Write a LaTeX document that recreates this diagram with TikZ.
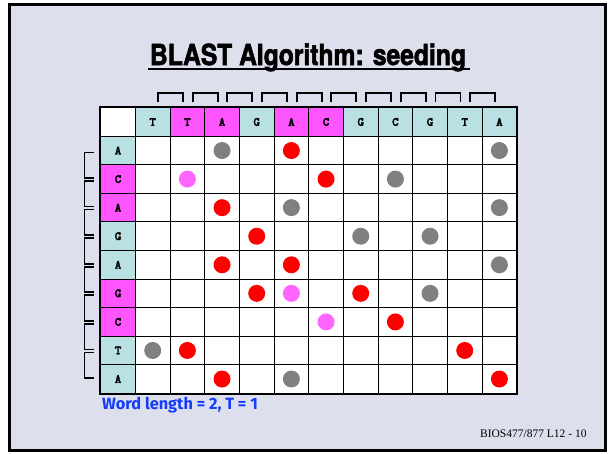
\documentclass[tikz,border=0pt]{standalone}
\usepackage{fontspec}
\setmainfont{Liberation Serif}
\newfontfamily\titlefont[FakeStretch=0.85,FakeBold=2]{texgyreheros-bold.otf}
\newfontfamily\cellfont[FakeBold=2.5]{lmmonolt10-bold.otf}
\newfontfamily\notefont{Fira Sans}
\definecolor{slidebg}{RGB}{221,223,236}
\definecolor{seqteal}{RGB}{185,224,226}
\definecolor{seqpink}{RGB}{255,85,255}
\definecolor{dotpink}{RGB}{255,102,255}
\definecolor{dotgray}{RGB}{128,128,128}
\definecolor{noteblue}{RGB}{20,60,250}
\begin{document}
\begin{tikzpicture}[
    x=1pt,y=-1pt,
    cell/.style={draw=black,line width=0.9pt,minimum width=34.67pt,minimum height=28.56pt,
        inner sep=0pt,font=\cellfont\fontsize{12.5}{13}\selectfont},
    tl/.style={cell,fill=seqteal},
    mg/.style={cell,fill=seqpink},
    wh/.style={cell,fill=white},
    hitred/.style={fill=red},
    hitgray/.style={fill=dotgray},
    hitpink/.style={fill=dotpink},
    topbrack/.pic={
        \draw[line width=1.7pt] (-12.5,9.4) -- (-12.5,0) -- (12.5,0) -- (12.5,9.4);
    },
    leftbrack/.pic={
        \draw[line width=1.7pt] (9,-12.8) -- (0,-12.8) -- (0,12.8) -- (9,12.8);
    }
]
    \fill[white] (0,0) rectangle (608,453);
    \draw[line width=3pt,fill=slidebg] (9.5,4.5) rectangle (605.5,450.5);
    \node[font=\titlefont\fontsize{29}{29}\selectfont,anchor=base,inner sep=0pt]
        (title) at (308,65) {BLAST Algorithm: seeding};
    \draw[line width=2.3pt] ([xshift=-2pt,yshift=-3.8pt]title.base west)
        -- ([xshift=4pt,yshift=-3.8pt]title.base east);
    \node[wh] (c-0-0) at (118.03,121.98) {};
    \foreach \c/\t/\s in {1/T/tl,2/T/mg,3/A/mg,4/G/tl,5/A/mg,6/C/mg,7/G/tl,8/C/tl,9/G/tl,10/T/tl,11/A/tl}
        \node[\s] (c-0-\c) at ({100.7+(\c+0.5)*34.67},121.98) {\t};
    \foreach \r/\t/\s in {1/A/tl,2/C/mg,3/A/mg,4/G/tl,5/A/tl,6/G/mg,7/C/mg,8/T/tl,9/A/tl}
        \node[\s] (c-\r-0) at (118.03,{107.7+(\r+0.5)*28.56}) {\t};
    \foreach \r in {1,...,9}
        \foreach \c in {1,...,11}
            \node[wh] (c-\r-\c) at ({100.7+(\c+0.5)*34.67},{107.7+(\r+0.5)*28.56}) {};
    \draw[line width=2.3pt] (c-0-0.north west) rectangle (c-9-11.south east);
    \foreach \r/\c/\k in {1/3/hitgray,1/5/hitred,1/11/hitgray,
                          2/2/hitpink,2/6/hitred,2/8/hitgray,
                          3/3/hitred,3/5/hitgray,3/11/hitgray,
                          4/4/hitred,4/7/hitgray,4/9/hitgray,
                          5/3/hitred,5/5/hitred,5/11/hitgray,
                          6/4/hitred,6/5/hitpink,6/7/hitred,6/9/hitgray,
                          7/6/hitpink,7/8/hitred,
                          8/1/hitgray,8/2/hitred,8/10/hitred,
                          9/3/hitred,9/5/hitgray,9/11/hitred}
        \fill[\k] (c-\r-\c) circle (8.5pt);
    \foreach \k in {1,...,10}
        \path ([yshift=14.4pt]c-0-\k.north east) pic {topbrack};
    \foreach \k in {1,...,8}
        \path ([xshift=-15.7pt]c-\k-0.south west) pic {leftbrack};
    \node[anchor=base west,inner sep=0pt,text=noteblue,font=\notefont\bfseries\fontsize{16.3}{16}\selectfont]
        (note) at (102,409.3) {Word length = 2, T = 1};
    \node[anchor=base east,inner sep=0pt,font=\fontsize{11.5}{12}\selectfont]
        (slideno) at (586.7,437.7) {BIOS477/877 L12 - 10};
\end{tikzpicture}
\end{document}
